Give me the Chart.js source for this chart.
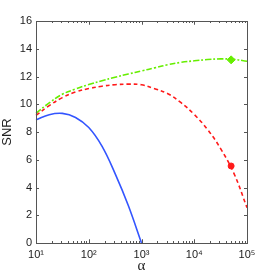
<!DOCTYPE html>
<html><head><meta charset="utf-8">
<script src="https://cdn.jsdelivr.net/npm/chart.js@4/dist/chart.umd.min.js"></script>
<style>html,body{margin:0;padding:0;background:#fff}#wrap{width:273px;height:275px;position:relative}</style>
</head><body><div id="wrap"><canvas id="c"></canvas></div>
<script>
const xTicks = [10, 100, 1000, 10000, 100000];
const xTickLabels = ['10\u00B9', '10\u00B2', '10\u00B3', '10\u2074', '10\u2075'];
const yTicks = [0, 2, 4, 6, 8, 10, 12, 14, 16];

const alphaBlue = [10, 17.8, 31.6, 56.2, 100, 178, 316, 562, 1000];
const snrBlue   = [8.88, 9.25, 9.34, 9.05, 8.32, 6.98, 5.0, 2.7, 0];

const alphaRed = [10, 17.8, 31.6, 56.2, 100, 178, 316, 562, 1000, 1778, 3162, 5623, 10000, 17783, 31623, 56234, 100000];
const snrRed   = [9.2, 9.9, 10.48, 10.88, 11.13, 11.3, 11.41, 11.45, 11.4, 11.12, 10.76, 10.11, 9.26, 8.19, 6.8, 5.04, 2.55];

const alphaGreen = [10, 17.8, 31.6, 56.2, 100, 178, 316, 562, 1000, 1778, 3162, 5623, 10000, 17783, 31623, 56234, 100000];
const snrGreen   = [9.35, 10.1, 10.72, 11.1, 11.42, 11.7, 11.95, 12.18, 12.4, 12.62, 12.85, 13.02, 13.13, 13.22, 13.27, 13.24, 13.1];

const markerRed = {alpha: 50000, snr: 5.55};
const markerGreen = {alpha: 50000, snr: 13.2};

const pts = (xs, ys) => xs.map((x, i) => ({x: x, y: ys[i]}));

const boxTicks = {
  id: 'boxTicks',
  afterDraw(chart) {
    const {ctx, chartArea: a, scales: {x, y}} = chart;
    ctx.save();
    ctx.strokeStyle = '#555';
    ctx.lineWidth = 1;
    ctx.strokeRect(Math.round(a.left) + 0.5, Math.round(a.top) + 0.5, Math.round(a.right - a.left), Math.round(a.bottom - a.top));
    ctx.beginPath();
    for (const v of yTicks) {
      const py = Math.round(y.getPixelForValue(v)) + 0.5;
      ctx.moveTo(a.left, py); ctx.lineTo(a.left + 3, py);
      ctx.moveTo(a.right, py); ctx.lineTo(a.right - 3, py);
    }
    for (let d = 10; d < 100000; d *= 10) {
      for (let m = 1; m <= 10; m++) {
        const v = d * m;
        const px = Math.round(x.getPixelForValue(v)) + 0.5;
        const len = (m === 1 || m === 10) ? 3.5 : 2;
        ctx.moveTo(px, a.bottom); ctx.lineTo(px, a.bottom - len);
        ctx.moveTo(px, a.top); ctx.lineTo(px, a.top + len);
      }
    }
    ctx.stroke();
    ctx.restore();
  }
};

new Chart(document.getElementById('c'), {
  type: 'line',
  data: {
    datasets: [
      {data: pts(alphaBlue, snrBlue), borderColor: '#3355ff', borderWidth: 1.6, pointRadius: 0, tension: 0.4, fill: false},
      {data: pts(alphaRed, snrRed), borderColor: '#ff1a1a', borderWidth: 1.6, borderDash: [4, 3], pointRadius: 0, tension: 0.4, fill: false},
      {data: pts(alphaGreen, snrGreen), borderColor: '#66ee00', borderWidth: 1.6, borderDash: [6, 2, 2, 2], pointRadius: 0, tension: 0.4, fill: false},
      {data: [{x: markerRed.alpha, y: markerRed.snr}], showLine: false, pointStyle: 'circle', pointRadius: 3, backgroundColor: '#ff1a1a', borderColor: '#ff1a1a'},
      {data: [{x: markerGreen.alpha, y: markerGreen.snr}], showLine: false, pointStyle: 'rectRot', pointRadius: 4, backgroundColor: '#66ee00', borderColor: '#66ee00'}
    ]
  },
  options: {
    responsive: true,
    maintainAspectRatio: false,
    animation: false,
    clip: false,
    layout: {padding: {top: 21, right: 26, left: 0, bottom: 0}},
    plugins: {legend: {display: false}, tooltip: {enabled: false}},
    scales: {
      x: {
        type: 'logarithmic', min: 10, max: 100000,
        grid: {display: false, drawTicks: false},
        border: {display: false},
        afterBuildTicks(s) { s.ticks = xTicks.map(v => ({value: v})); },
        afterFit(s) { s.height = 32; },
        ticks: {
          autoSkip: false, maxRotation: 0, padding: 5, color: '#222',
          font: {family: 'Liberation Sans', size: 11},
          callback(v) { const i = xTicks.indexOf(v); return i >= 0 ? xTickLabels[i] : ''; }
        },
        title: {display: true, text: '\u03B1', color: '#222', font: {family: 'Liberation Serif', size: 15}, padding: {top: -4, bottom: 0}}
      },
      y: {
        min: 0, max: 16,
        grid: {display: false, drawTicks: false},
        border: {display: false},
        afterBuildTicks(s) { s.ticks = yTicks.map(v => ({value: v})); },
        afterFit(s) { s.width = 36; },
        ticks: {color: '#222', padding: 4, font: {family: 'Liberation Sans', size: 11}},
        title: {display: true, text: 'SNR', color: '#222', font: {family: 'Liberation Sans', size: 13}, padding: {top: 0, bottom: 0}}
      }
    }
  },
  plugins: [boxTicks]
});
</script>
</body></html>
